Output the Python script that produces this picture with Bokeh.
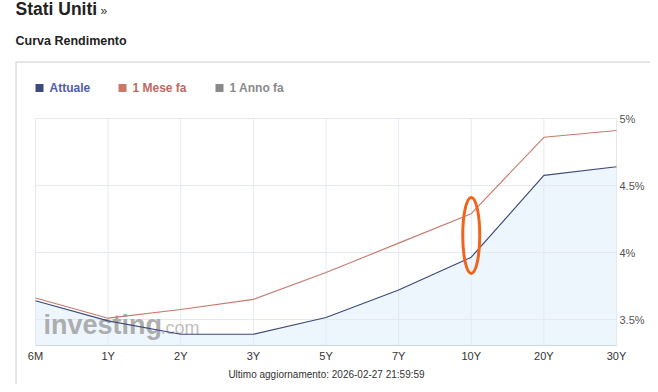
from bokeh.plotting import figure
from bokeh.models import Range1d
from bokeh.core.properties import value
from bokeh.embed import file_html
from bokeh.resources import INLINE

categories = ["6M", "1Y", "2Y", "3Y", "5Y", "7Y", "10Y", "20Y", "30Y"]
attuale = [3.64, 3.49, 3.39, 3.39, 3.515, 3.72, 3.965, 4.575, 4.64]
mese_fa = [3.66, 3.51, 3.575, 3.65, 3.85, 4.07, 4.29, 4.86, 4.91]
y_ticks = [3.5, 4.0, 4.5, 5.0]
y_tick_labels = ["3.5%", "4%", "4.5%", "5%"]
legend_names = ["Attuale", "1 Mese fa", "1 Anno fa"]
page_title = "Stati Uniti"
section_title = "Curva Rendimento"
update_text = "Ultimo aggiornamento: 2026-02-27 21:59:59"

FONT = value("Liberation Sans")
W, H = 650, 384
PL, PR, PT, PB = 35, 616, 118, 345  # plot area edges in pixels
YMIN, YMAX = 3.306, 5.0
XMIN, XMAX = 0, len(categories) - 1
xs = list(range(len(categories)))


def dx(px):
    return XMIN + (px - PL) / (PR - PL) * (XMAX - XMIN)


def dy(py):
    return YMAX - (py - PT) / (PB - PT) * (YMAX - YMIN)


p = figure(width=W, height=H, output_backend="svg", toolbar_location=None,
           x_range=Range1d(dx(0), dx(W)), y_range=Range1d(dy(H), dy(0)),
           min_border=0, x_axis_type=None, y_axis_type=None)
p.outline_line_color = None
p.grid.visible = False
p.background_fill_color = "white"
p.border_fill_color = "white"

# outer panel border
p.line(x=[dx(15.5), dx(15.5), dx(W + 5)], y=[dy(H + 5), dy(61.5), dy(61.5)],
       line_color="#cccccc", line_width=1)

# area fill under current curve
p.varea(x=xs, y1=[YMIN] * len(xs), y2=attuale, fill_color="#edf5fd", fill_alpha=1)

# grid
p.segment(x0=xs, y0=[YMIN] * len(xs), x1=xs, y1=[YMAX] * len(xs),
          line_color="#e4e9f1", line_width=1)
p.segment(x0=[XMIN] * len(y_ticks), y0=y_ticks, x1=[XMAX] * len(y_ticks), y1=y_ticks,
          line_color="#e4e9f1", line_width=1)
p.segment(x0=[XMIN], y0=[YMIN], x1=[XMAX], y1=[YMIN], line_color="#ccd6eb", line_width=1)

# watermark
p.text(x=[dx(43)], y=[dy(324)], text=["investing"], text_font=FONT,
       text_font_style="bold", text_font_size="27px", text_color="#a3a3a3",
       text_alpha=0.9, text_baseline="middle")
p.text(x=[dx(160)], y=[dy(327)], text=[".com"], text_font=FONT,
       text_font_size="18px", text_color="#b5b5b5", text_alpha=0.9,
       text_baseline="middle")

# series
p.line(xs, mese_fa, line_color="#c8796b", line_width=1.1)
p.line(xs, attuale, line_color="#3e4a78", line_width=1.2)

# tick labels
p.text(x=xs, y=[dy(355)] * len(xs), text=categories, text_font=FONT,
       text_font_size="11px", text_color="#333333", text_align="center",
       text_baseline="middle")
p.text(x=[dx(619)] * len(y_ticks), y=y_ticks, text=y_tick_labels, text_font=FONT,
       text_font_size="11px", text_color="#555555", text_align="left",
       text_baseline="middle")

# orange highlight ellipse around 10Y
i10 = categories.index("10Y")
p.ellipse(x=[i10], y=[(attuale[i10] + mese_fa[i10]) / 2], width=17, height=76,
          width_units="screen", height_units="screen", fill_color=None,
          line_color="#f0641e", line_width=3)

# titles
p.text(x=[dx(15)], y=[dy(8)], text=[page_title], text_font=FONT,
       text_font_style="bold", text_font_size="17.5px", text_color="#222222",
       text_baseline="middle")
p.text(x=[dx(100)], y=[dy(10)], text=["»"], text_font=FONT,
       text_font_size="12px", text_color="#333333", text_baseline="middle")
p.text(x=[dx(15)], y=[dy(40.5)], text=[section_title], text_font=FONT,
       text_font_style="bold", text_font_size="12.5px", text_color="#222222",
       text_baseline="middle")

# legend
leg_sq = ["#3c4a7c", "#cc7868", "#8a8a8a"]
leg_txt = ["#4f5ea8", "#bd6c5e", "#8a8a8a"]
leg_x = [35, 118, 215]
p.quad(left=[dx(x) for x in leg_x], right=[dx(x + 8) for x in leg_x],
       top=[dy(83.5)] * 3, bottom=[dy(91.5)] * 3, fill_color=leg_sq, line_color=None)
p.text(x=[dx(x + 14) for x in leg_x], y=[dy(87.5)] * 3, text=legend_names,
       text_font=FONT, text_font_style="bold", text_font_size="12px",
       text_color=leg_txt, text_baseline="middle")

# update note
p.text(x=[dx(326)], y=[dy(374)], text=[update_text], text_font=FONT,
       text_font_size="10px", text_color="#333333", text_align="center",
       text_baseline="middle")

open("out.html", "w").write(file_html(p, INLINE))
